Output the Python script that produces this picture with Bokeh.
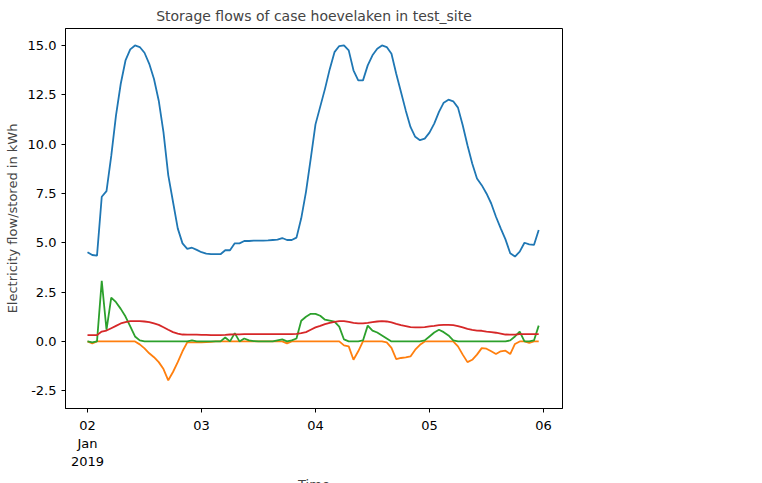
import pandas as pd
from bokeh.plotting import figure
from bokeh.models import Legend, FixedTicker
from bokeh.embed import file_html
from bokeh.resources import INLINE

# hourly values, Jan 2 00:00 .. Jan 5 23:00
stored_capacity = [
    4.52, 4.38, 4.35, 7.33, 7.62, 9.4, 11.46, 13.06, 14.24, 14.8, 15.0, 14.92,
    14.63, 14.07, 13.3, 12.2, 10.6, 8.43, 7.08, 5.73, 4.97, 4.69, 4.75, 4.64,
    4.52, 4.45, 4.42, 4.42, 4.42, 4.62, 4.62, 4.97, 4.97, 5.09, 5.09, 5.11,
    5.11, 5.11, 5.12, 5.14, 5.16, 5.24, 5.14, 5.14, 5.26, 6.24, 7.58, 9.27,
    11.0, 11.9, 12.8, 13.8, 14.66, 14.97, 15.0, 14.75, 13.74, 13.23, 13.23, 13.99,
    14.5, 14.83, 15.0, 14.92, 14.58, 13.57, 12.64, 11.71, 10.87, 10.37, 10.2, 10.28,
    10.58, 11.04, 11.63, 12.1, 12.25, 12.17, 11.85, 10.96, 9.94, 9.02, 8.26, 7.92,
    7.5, 6.99, 6.32, 5.73, 5.17, 4.47, 4.3, 4.55, 5.0, 4.92, 4.89, 5.65,
]
storage_discharge = [
    0, -0.1, 0, 0, 0, 0, 0, 0, 0, 0, 0, -0.15,
    -0.35, -0.6, -0.8, -1.05, -1.4, -1.97, -1.55, -1.05, -0.5, -0.05, -0.05, -0.05,
    -0.05, -0.03, -0.02, 0, 0, 0, 0, 0, 0, 0, 0, 0,
    0, 0, 0, 0, 0, 0, -0.1, 0, 0, 0, 0, 0,
    0, 0, 0, 0, 0, 0, -0.2, -0.25, -0.93, -0.5, 0, 0,
    0, 0, 0, -0.05, -0.33, -0.9, -0.84, -0.81, -0.76, -0.42, -0.17, 0,
    0, 0, 0, 0, 0, 0, -0.25, -0.67, -1.05, -0.93, -0.67, -0.34,
    -0.37, -0.5, -0.64, -0.5, -0.47, -0.64, -0.13, 0, 0, -0.08, 0, 0,
]
storage_charge = [
    0, -0.05, 0, 3.07, 0.59, 2.22, 1.99, 1.65, 1.26, 0.76, 0.25, 0.05,
    0, 0, 0, 0, 0, 0, 0, 0, 0, 0, 0.05, 0,
    0, 0, 0, 0, 0, 0.2, 0, 0.42, 0, 0.15, 0.05, 0.02,
    0, 0, 0, 0, 0.05, 0.1, 0, 0.05, 0.15, 1.05, 1.25, 1.4,
    1.4, 1.3, 1.1, 1.05, 1.0, 0.75, 0.1, 0, 0, 0, 0.05, 0.8,
    0.55, 0.45, 0.3, 0.15, 0, 0, 0, 0, 0, 0, 0, 0.05,
    0.25, 0.45, 0.59, 0.47, 0.3, 0.05, 0, 0, 0, 0, 0, 0,
    0, 0, 0, 0, 0, 0.05, 0.25, 0.5, 0, 0, 0.05, 0.8,
]
storage_soc = [
    0.32, 0.32, 0.32, 0.5, 0.55, 0.67, 0.79, 0.91, 0.98, 1.03, 1.03, 1.03,
    1.01, 0.98, 0.91, 0.84, 0.72, 0.59, 0.47, 0.4, 0.35, 0.34, 0.34, 0.34,
    0.33, 0.33, 0.32, 0.32, 0.32, 0.33, 0.35, 0.36, 0.36, 0.37, 0.37, 0.37,
    0.37, 0.37, 0.37, 0.37, 0.37, 0.37, 0.37, 0.37, 0.38, 0.42, 0.47, 0.59,
    0.71, 0.79, 0.88, 0.94, 0.99, 1.03, 1.03, 0.99, 0.94, 0.91, 0.91, 0.94,
    0.98, 1.01, 1.03, 1.01, 0.96, 0.89, 0.83, 0.78, 0.72, 0.71, 0.71, 0.72,
    0.76, 0.79, 0.83, 0.84, 0.84, 0.83, 0.78, 0.71, 0.64, 0.59, 0.55, 0.54,
    0.5, 0.47, 0.44, 0.4, 0.35, 0.34, 0.34, 0.37, 0.37, 0.37, 0.37, 0.37,
]
time = pd.date_range("2019-01-02 00:00", periods=96, freq="h")
tick_days = pd.date_range("2019-01-02", "2019-01-06", freq="D")
tick_labels = ["02\nJan\n2019", "03", "04", "05", "06"]
y_ticks = [-2.5, 0, 2.5, 5, 7.5, 10, 12.5, 15]

DAY = 86400000
t0 = tick_days[0].timestamp() * 1000

p = figure(frame_width=497, frame_height=380, output_backend="svg", toolbar_location=None,
           title="Storage flows of case hoevelaken in test_site",
           x_range=(t0 - 0.193 * DAY, t0 + 4.167 * DAY), y_range=(-3.40, 15.86),
           min_border_left=65, min_border_top=0, min_border_bottom=10, min_border_right=10)

p.title.align = "center"
p.title.text_font = "DejaVu Sans"
p.title.text_font_size = "14px"
p.title.text_font_style = "normal"

xs = [t.timestamp() * 1000 for t in time]
colors = ["#1f77b4", "#ff7f0e", "#2ca02c", "#d62728"]
names = ["Stored capacity", "Storage discharge", "Storage charge", "Storage SOC"]
items = []
for ys, c, n in zip([stored_capacity, storage_discharge, storage_charge, storage_soc], colors, names):
    r = p.line(xs, ys, line_color=c, line_width=1.8)
    items.append((n, [r]))

tick_ms = [d.timestamp() * 1000 for d in tick_days]
p.xaxis.ticker = FixedTicker(ticks=tick_ms)
p.xaxis.major_label_overrides = dict(zip(tick_ms, tick_labels))
p.yaxis.ticker = FixedTicker(ticks=y_ticks)
p.yaxis.major_label_overrides = {v: f"{v:.1f}" for v in y_ticks}

p.xaxis.axis_label = "Time"
p.yaxis.axis_label = "Electricity flow/stored in kWh"
for ax in (p.xaxis[0], p.yaxis[0]):
    ax.axis_label_text_font = "DejaVu Sans"
    ax.axis_label_text_font_size = "13px"
    ax.axis_label_text_font_style = "normal"
    ax.major_label_text_font = "DejaVu Sans"
    ax.major_label_text_font_size = "13px"
    ax.major_label_text_color = "black"
    ax.axis_line_color = "black"
    ax.major_tick_line_color = "black"
    ax.major_tick_in = 0
    ax.major_tick_out = 4
    ax.minor_tick_line_color = None
p.xgrid.grid_line_color = None
p.ygrid.grid_line_color = None
p.outline_line_color = "black"
p.outline_line_alpha = 1

legend = Legend(items=items, location="center", label_text_font="DejaVu Sans",
                label_text_font_size="13px", border_line_color="#cccccc",
                glyph_width=30, spacing=2, padding=6, margin=6)
p.add_layout(legend, "right")

open("out.html", "w").write(file_html(p, INLINE))
